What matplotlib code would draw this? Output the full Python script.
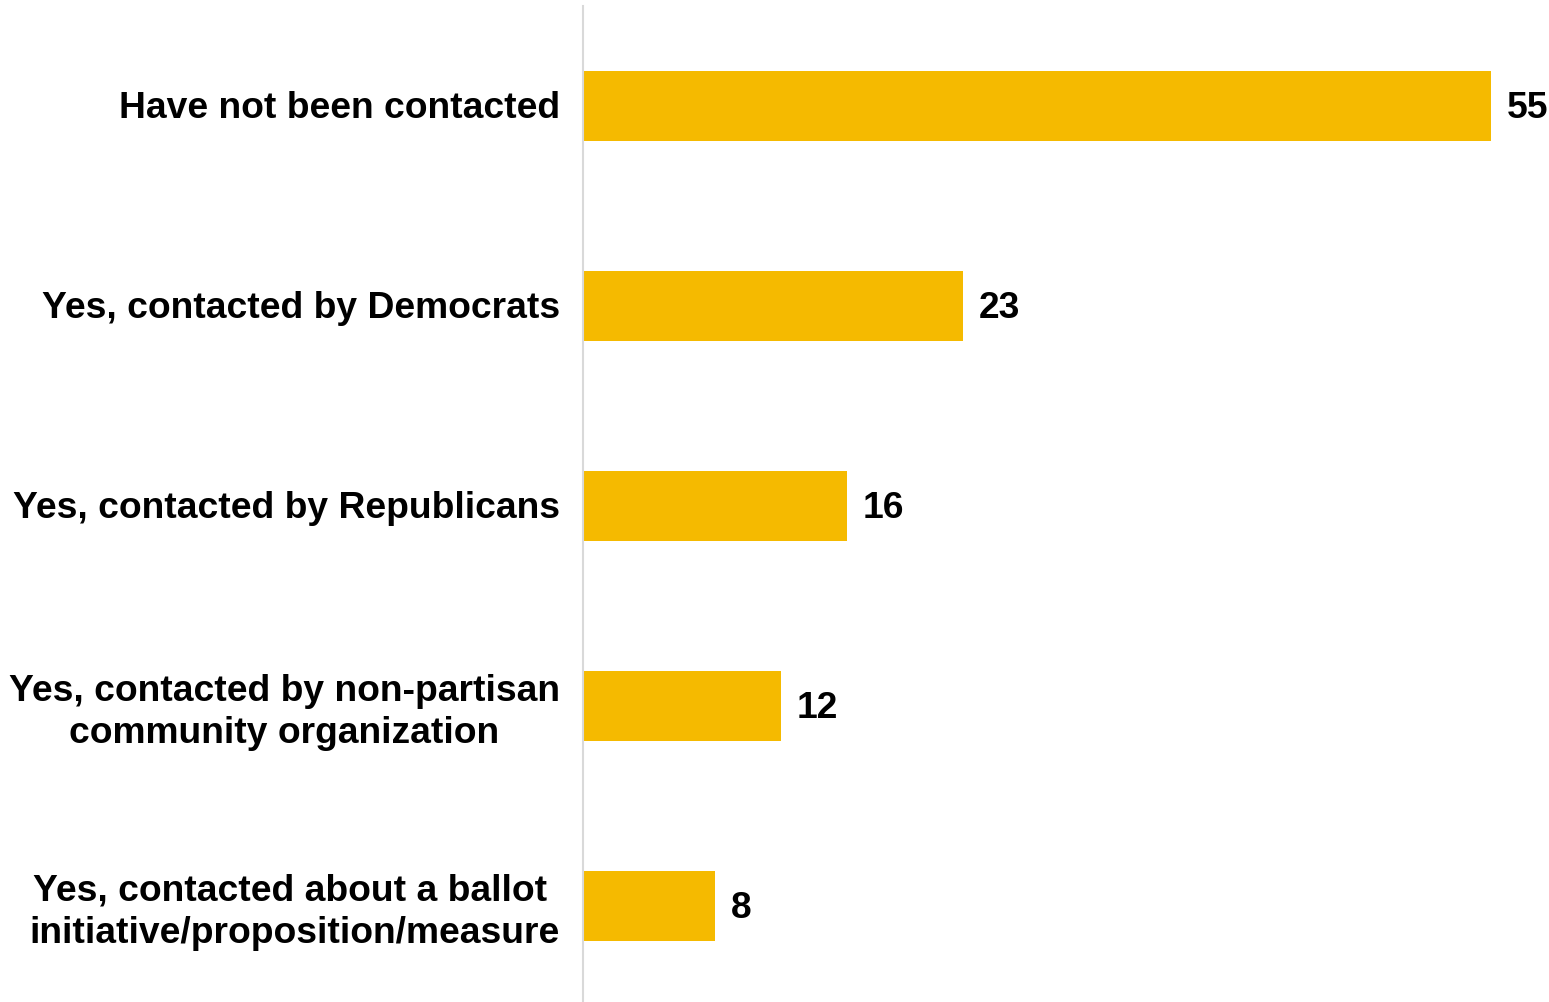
import matplotlib
matplotlib.use("Agg")
import matplotlib.pyplot as plt
from matplotlib.transforms import offset_copy

categories = [
    "Have not been contacted",
    "Yes, contacted by Democrats",
    "Yes, contacted by Republicans",
    "Yes, contacted by non-partisan\ncommunity organization",
    "Yes, contacted about a ballot \ninitiative/proposition/measure",
]
values = [55, 23, 16, 12, 8]

BAR_COLOR = "#F5BA00"
FONT = "Liberation Sans"
FS = 26.8

W, H = 1549, 1002
fig = plt.figure(figsize=(W / 100, H / 100), dpi=100)
left = 583 / W
right = 1491 / W
ax = fig.add_axes([left, -4 / H, right - left, 1000 / H])

n = len(categories)
ypos = list(range(n))
ax.barh(ypos, values, height=0.35, color=BAR_COLOR, zorder=2)
ax.set_ylim(n - 0.5, -0.5)
ax.set_xlim(0, 55)

for y, v in zip(ypos, values):
    ax.annotate(str(v), xy=(v, y), xytext=(11.5, -2), textcoords="offset points",
                ha="left", va="center", fontsize=FS, fontweight="bold",
                family=FONT, color="black", annotation_clip=False)

ax.set_yticks(ypos)
ax.set_yticklabels(categories, fontsize=FS, fontweight="bold", family=FONT,
                   ha="center", multialignment="center", linespacing=1.25)
ax.tick_params(axis="y", length=0, pad=0)
fig.canvas.draw()
renderer = fig.canvas.get_renderer()
for lbl in ax.get_yticklabels():
    bb = lbl.get_window_extent(renderer)
    w = bb.width
    lbl.set_transform(offset_copy(ax.get_yaxis_transform(), fig=fig,
                                  x=-(23 + w / 2), y=1, units="dots"))
ax.set_xticks([])
for s in ["top", "right", "bottom"]:
    ax.spines[s].set_visible(False)
ax.spines["left"].set_color("#D9D9D9")
ax.spines["left"].set_linewidth(1.5)

fig.savefig("out.png", dpi=100)
